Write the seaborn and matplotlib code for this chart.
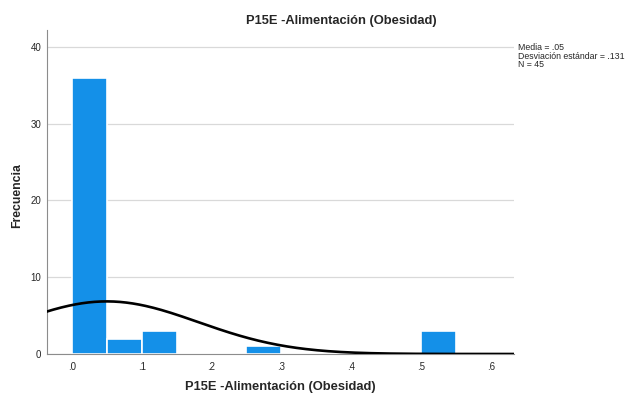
import numpy as np
import pandas as pd
import matplotlib
matplotlib.use("Agg")
import matplotlib.pyplot as plt
import seaborn as sns

# --- Data ---
BIN_EDGES = [0.0, 0.05, 0.10, 0.15, 0.20, 0.25, 0.30, 0.35, 0.40, 0.45, 0.50, 0.55]
BIN_COUNTS = [36, 2, 3, 0, 0, 1, 0, 0, 0, 0, 3]
MEAN = 0.05
SD = 0.131
N = 45
X_TICKS = [0.0, 0.1, 0.2, 0.3, 0.4, 0.5, 0.6]
X_TICK_LABELS = [".0", ".1", ".2", ".3", ".4", ".5", ".6"]
Y_TICKS = [0, 10, 20, 30, 40]

TITLE = "P15E -Alimentación (Obesidad)"
COLOR_BAR = "#1490E8"
COLOR_GRID = "#D9D9D9"
COLOR_AXIS = "#8C8C8C"

sns.set_style("white")
plt.rcParams['font.family'] = ['Liberation Sans', 'DejaVu Sans']

fig = plt.figure(figsize=(6.28, 3.96), dpi=100)
# axes box: x 47..514 px, y 30..354 px
ax = fig.add_axes([47 / 628, (396 - 354) / 396, 467 / 628, 324 / 396])

centers = [(a + b) / 2 for a, b in zip(BIN_EDGES[:-1], BIN_EDGES[1:])]
df = pd.DataFrame({"x": centers, "w": BIN_COUNTS})
sns.histplot(data=df, x="x", weights="w", bins=BIN_EDGES, ax=ax,
             color=COLOR_BAR, alpha=1, edgecolor="white", linewidth=1.2, zorder=2)

# normal curve scaled to counts
xs = np.linspace(-0.04, 0.64, 300)
bw = BIN_EDGES[1] - BIN_EDGES[0]
ys = N * bw / (SD * np.sqrt(2 * np.pi)) * np.exp(-0.5 * ((xs - MEAN) / SD) ** 2)
sns.lineplot(x=xs, y=ys, ax=ax, color="black", linewidth=1.9, zorder=3)

ax.set_xlim(-0.0355, 0.633)
ax.set_ylim(0, 42.2)
ax.set_xticks(X_TICKS)
ax.set_xticklabels(X_TICK_LABELS)
ax.set_yticks(Y_TICKS)
ax.yaxis.grid(True, color=COLOR_GRID, linewidth=0.9, zorder=0)
ax.set_axisbelow(True)
for s in ["top", "right"]:
    ax.spines[s].set_visible(False)
for s in ["left", "bottom"]:
    ax.spines[s].set_color(COLOR_AXIS)
    ax.spines[s].set_linewidth(0.8)
ax.tick_params(axis="y", length=0, labelsize=7, pad=4)
ax.tick_params(axis="x", length=0, labelsize=7, pad=6)

ax.set_xlabel(TITLE, fontsize=9.3, fontweight="bold")
ax.xaxis.set_label_coords(0.5, -0.084)
ax.set_ylabel("Frecuencia", fontsize=8.8, fontweight="bold")
ax.yaxis.set_label_coords(-0.051, 0.49)

# chart title (SPSS centres it over the whole chart area)
fig.text(341 / 628, 1 - 21 / 396, TITLE, fontsize=9.3, fontweight="bold",
         ha="center", va="center")

fig.text(518 / 628, 1 - 43 / 396,
         f"Media = .05\nDesviación estándar = .131\nN = {N}",
         fontsize=6.3, va="top", ha="left", linespacing=0.95)

fig.savefig("out.png", dpi=100)
